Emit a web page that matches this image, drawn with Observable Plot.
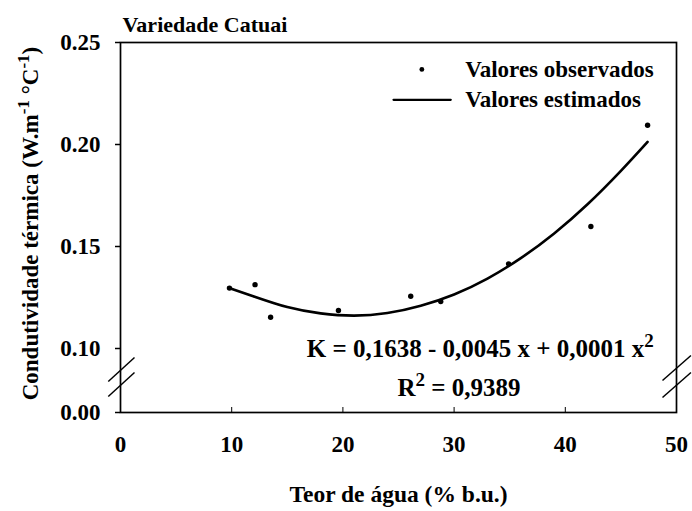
<!DOCTYPE html>
<html>
<head>
<meta charset="utf-8">
<script src="https://cdn.jsdelivr.net/npm/d3@7"></script>
<script src="https://cdn.jsdelivr.net/npm/@observablehq/plot@0.6"></script>
<style>
  html, body { margin: 0; padding: 0; background: #fff; }
  svg text { font-family: "Liberation Serif", "Times New Roman", serif; font-weight: bold; }
</style>
</head>
<body>
<div id="chart"></div>
<script>
// ---- data ----
const title = "Variedade Catuai";
const xLabel = "Teor de água (% b.u.)";
const yLabelParts = [["Condutividade térmica (W.m", false], ["-1", true], [" °C", false], ["-1", true], [")", false]];
const xTicks = [0, 10, 20, 30, 40, 50];
const yTicks = [0, 0.10, 0.15, 0.20, 0.25];
const yDomain = [0, 0.10, 0.25];           // broken axis: 0.00 | 0.10 … 0.25

const obsX = [9.8, 12.1, 13.5, 19.6, 26.1, 28.8, 34.9, 42.3, 47.4];
const obsY = [0.1296, 0.1313, 0.1153, 0.1186, 0.1256, 0.1230, 0.1415, 0.1598, 0.2094];

const fitX = [9.7, 12, 15, 18, 21, 24, 27, 30, 33, 36, 39, 42, 45, 47.4];
const fitY = [0.1298, 0.1255, 0.1203, 0.1172, 0.1161, 0.1174, 0.1210, 0.1265, 0.1343, 0.1443, 0.1564, 0.1707, 0.1871, 0.2013];

const legendLabels = ["Valores observados", "Valores estimados"];
const legendTextX = [31.0, 31.0];
const legendY = [0.2368, 0.2219];
const legendDotX = [27.1];
const legendLineX = [24.55, 29.7];

const eqParts = [["K = 0,1638 - 0,0045 x + 0,0001 x", false], ["2", true]];
const r2Parts = [["R", false], ["2", true], [" = 0,9389", false]];
const eqX = [16.75, 24.9];
const eqY = [0.1, 0.038];

// axis-break marks (two slashes on each side)
const breakX1 = [-1.1, -1.1, 48.74, 48.74];
const breakX2 = [1.26, 1.26, 51.3, 51.3];
const breakY1 = [0.0484, 0.025, 0.05, 0.0234];
const breakY2 = [0.0859, 0.0625, 0.089, 0.0625];

// ---- tables ----
const obs = obsX.map((x, i) => ({x, y: obsY[i]}));
const fit = fitX.map((x, i) => ({x, y: fitY[i]}));
const breaks = breakX1.map((x1, i) => ({x1, x2: breakX2[i], y1: breakY1[i], y2: breakY2[i]}));
const legendText = legendLabels.map((t, i) => ({t, x: legendTextX[i], y: legendY[i]}));
const legendLine = legendLineX.map(x => ({x, y: legendY[1]}));
const eqText = eqParts.map(p => p[0]).join("");
const r2Text = r2Parts.map(p => p[0]).join("");
const yLabelText = yLabelParts.map(p => p[0]).join("");
const eqRows = [
  {t: eqText, x: eqX[0], y: eqY[0]},
  {t: r2Text, x: eqX[1], y: eqY[1]}
];

const chart = Plot.plot({
  width: 692,
  height: 511,
  marginLeft: 120,
  marginRight: 16,
  marginTop: 42,
  marginBottom: 99,
  style: {background: "white", color: "black", fontFamily: '"Liberation Serif", serif', fontSize: "22px"},
  x: {domain: [0, 50]},
  y: {type: "linear", domain: yDomain, range: [412, 348, 42]},
  marks: [
    Plot.frame({stroke: "black", strokeWidth: 1.7}),
    Plot.axisX({ticks: xTicks, tickSize: 5, dy: -5, fill: "none", label: null}),
    Plot.axisX({ticks: xTicks, tickSize: 0, tickPadding: 23, fontSize: 23, label: null}),
    Plot.axisY({ticks: yTicks, tickFormat: d3.format(".2f"), tickSize: 5, tickPadding: 15, fontSize: 23, label: null, strokeWidth: 1.5}),
    Plot.link(breaks, {x1: "x1", y1: "y1", x2: "x2", y2: "y2", stroke: "black", strokeWidth: 1.5}),
    Plot.line(fit, {x: "x", y: "y", curve: "natural", stroke: "black", strokeWidth: 2.6}),
    Plot.dot(obs, {x: "x", y: "y", r: 2.7, fill: "black", stroke: "none"}),
    // legend
    Plot.dot(legendDotX, {x: d => d, y: () => legendY[0], r: 2.4, fill: "black", stroke: "none"}),
    Plot.line(legendLine, {x: "x", y: "y", stroke: "black", strokeWidth: 2.2}),
    Plot.text(legendText, {x: "x", y: "y", text: "t", textAnchor: "start", fontSize: 23, fill: "black"}),
    // equation and R2
    Plot.text(eqRows, {x: "x", y: "y", text: "t", textAnchor: "start", fontSize: 25, fill: "black"}),
    // title and axis labels
    Plot.text([title], {frameAnchor: "top-left", textAnchor: "start", lineAnchor: "middle", dx: 2, dy: -18, fontSize: 22, fill: "black"}),
    Plot.text([xLabel], {frameAnchor: "bottom", textAnchor: "middle", lineAnchor: "middle", dy: 82, fontSize: 23.5, fill: "black"}),
    Plot.text([yLabelText], {frameAnchor: "left", textAnchor: "middle", lineAnchor: "middle", rotate: -90, dx: -90, dy: -4, fontSize: 23, fill: "black"})
  ]
});

// rebuild texts with superscripts (kept as real text via tspans)
function superscript(el, parts, shift, supSize) {
  const sel = d3.select(el);
  sel.text(null);
  let up = false;
  parts.forEach(([s, sup]) => {
    const t = sel.append("tspan").text(s);
    if (sup) {
      t.attr("font-size", supSize);
      if (!up) { t.attr("dy", -shift); up = true; }
    } else if (up) {
      t.attr("dy", shift); up = false;
    }
  });
}
d3.select(chart).selectAll("text").each(function() {
  const c = this.textContent;
  if (c === eqText) superscript(this, eqParts, 10, 19);
  else if (c === r2Text) superscript(this, r2Parts, 10, 19);
  else if (c === yLabelText) superscript(this, yLabelParts, 9, 17);
});

document.getElementById("chart").appendChild(chart);
</script>
</body>
</html>
